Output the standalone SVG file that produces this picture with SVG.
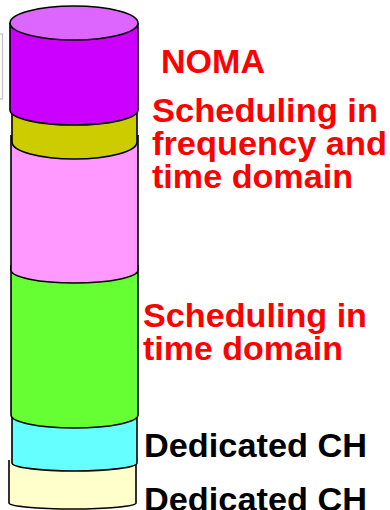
<svg xmlns="http://www.w3.org/2000/svg" width="390" height="510" viewBox="0 0 390 510">
<style>
.seg{stroke:#000;stroke-width:1.6;stroke-linejoin:round}
.lbl{font-family:"Liberation Sans",Arial,sans-serif;font-weight:bold;font-size:33px}
.red{fill:#ff0000}
.blk{fill:#000}
</style>
<rect x="-10" y="34" width="12.5" height="65" fill="none" stroke="#c0c0c0" stroke-width="1.2"/>
<g id="dedicated2">
<path class="seg" fill="#ffffcc" d="M9,460 L9,503 A63.5,6 0 0 0 136,503 L136,460"/>
</g>
<g id="dedicated1">
<path class="seg" fill="#66ffff" d="M12,410 L12,463 A62.5,8 0 0 0 137,463 L137,410"/>
</g>
<g id="time">
<path class="seg" fill="#66ff33" d="M11,265 L11,415 A63.5,13 0 0 0 138,415 L138,265"/>
</g>
<g id="freqtime">
<path class="seg" fill="#ff99ff" d="M11,135 L11,270 A63.5,13 0 0 0 138,270 L138,135"/>
</g>
<g id="yellow">
<path class="seg" fill="#cccc00" d="M12,100 L12,142 A62.5,17 0 0 0 137,142 L137,100"/>
</g>
<g id="noma">
<path class="seg" fill="#cc00ff" d="M10,23 L10,110 A64,15 0 0 0 138,110 L138,23"/>
<ellipse class="seg" fill="#dd66ff" cx="74" cy="23" rx="64" ry="17"/>
</g>
<g id="labels">
<text class="lbl red" x="161" y="73" textLength="104" lengthAdjust="spacingAndGlyphs">NOMA</text>
<text class="lbl red" x="152" y="122" textLength="226" lengthAdjust="spacingAndGlyphs">Scheduling in</text>
<text class="lbl red" x="152" y="155" textLength="235" lengthAdjust="spacingAndGlyphs">frequency and</text>
<text class="lbl red" x="152" y="188" textLength="201" lengthAdjust="spacingAndGlyphs">time domain</text>
<text class="lbl red" x="143" y="327" textLength="224" lengthAdjust="spacingAndGlyphs">Scheduling in</text>
<text class="lbl red" x="143" y="360" textLength="200" lengthAdjust="spacingAndGlyphs">time domain</text>
<text class="lbl blk" x="144" y="457" textLength="223" lengthAdjust="spacingAndGlyphs">Dedicated CH</text>
<text class="lbl blk" x="144" y="511" textLength="223" lengthAdjust="spacingAndGlyphs">Dedicated CH</text>
</g>
</svg>
